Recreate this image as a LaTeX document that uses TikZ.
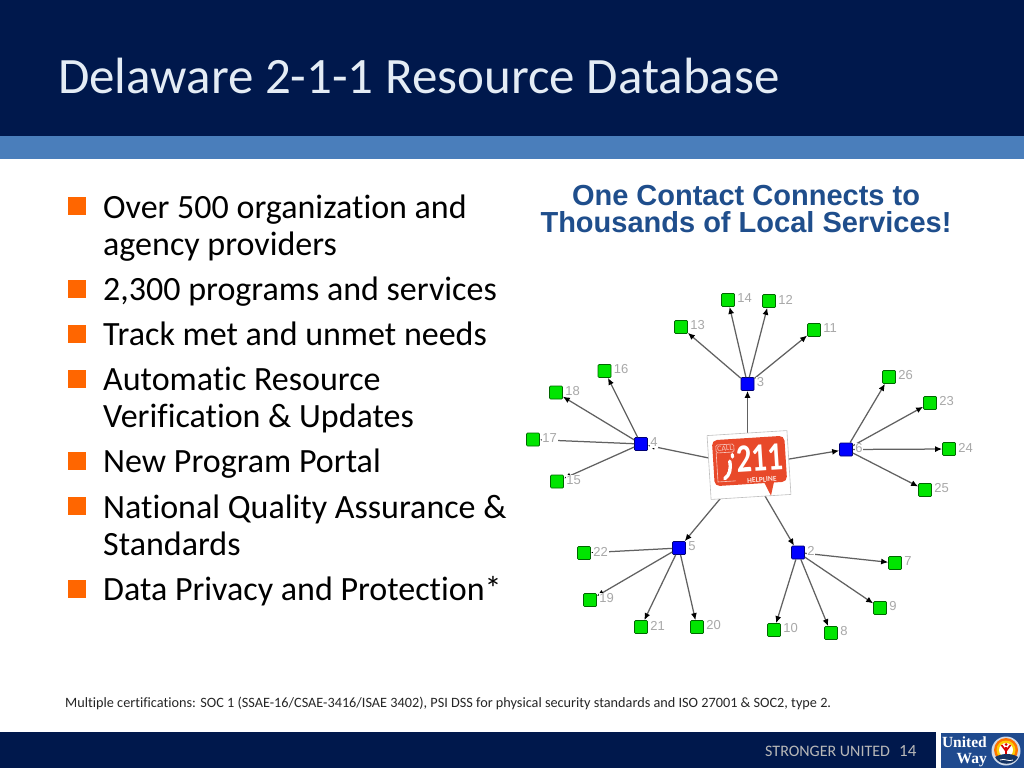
\documentclass[tikz,border=0pt]{standalone}
\usepackage{fontspec}
\setmainfont{Carlito}[Ligatures=CommonOff]
\newfontfamily\boldserif{Liberation Serif}
\newfontfamily\headfont{Liberation Sans}
\newfontfamily\numfont{Liberation Sans}
\usetikzlibrary{arrows.meta,calc}
\definecolor{navy}{HTML}{00184C}
\definecolor{band}{HTML}{4A7EBB}
\definecolor{headblue}{HTML}{1F4E8C}
\definecolor{uwblue}{HTML}{1F4A8E}
\definecolor{bul}{HTML}{FF6600}
\definecolor{logored}{HTML}{E8492A}
\definecolor{lbl}{HTML}{A8A8A8}
\tikzset{
 leaf/.style={draw=black!60!green,fill=green!90!black,line width=.7pt,minimum size=13pt,inner sep=0pt,rounded corners=1pt},
 mid/.style={draw=blue!45!black,fill=blue,line width=.7pt,minimum size=13pt,inner sep=0pt,rounded corners=1pt},
 edge/.style={draw=black!62,line width=1.25pt,-{Latex[length=7pt,width=6pt,black]}},
 num/.style={text=lbl,font=\numfont\fontsize{13}{13}\selectfont,inner sep=.6pt,fill=white,anchor=west,xshift=1.8pt},
 bullet/.style={fill=bul,minimum size=18pt,inner sep=0pt},
 body/.style={anchor=base west,font=\fontsize{34}{37}\selectfont,text=black,inner sep=0pt},
 headtext/.style={anchor=base,inner sep=0pt,text=headblue,font=\headfont\bfseries\fontsize{29}{30}\selectfont},
}
\begin{document}
\begin{tikzpicture}[x=1pt,y=-1pt]
\useasboundingbox (0,0) rectangle (1024,768);
\fill[white] (0,0) rectangle (1024,768);
\fill[navy] (0,0) rectangle (1024,136);
\fill[band] (0,136) rectangle (1024,159);
\fill[navy] (0,732) rectangle (936,768);
\node[anchor=base west,inner sep=0pt,text=white!85!band,font=\fontsize{51}{52}\selectfont] (title) at (58,93) {Delaware 2-1-1 Resource Database};
% bullets
\foreach \n/\y in {a/206,b/288.5,c/333.5,d/378.5,e/460.5,f/505.5,g/588.5}{\node[bullet] (bul\n) at (76.5,\y) {};}
\node[body] (ta) at (103,218) {Over 500 organization and};
\node[body] (ta2) at (103,255) {agency providers};
\node[body] (tb) at (103,300) {2,300 programs and services};
\node[body] (tc) at (103,345) {Track met and unmet needs};
\node[body] (td) at (103,390) {Automatic Resource};
\node[body] (td2) at (103,427) {Verification \& Updates};
\node[body] (te) at (103,472) {New Program Portal};
\node[body] (tf) at (103,518) {National Quality Assurance \&};
\node[body] (tf2) at (103,555) {Standards};
\node[body] (tg) at (103,600) {Data Privacy and Protection*};
% heading
\node[headtext] (h1) at (746,205) {One Contact Connects to};
\node[headtext] (h2) at (746,232) {Thousands of Local Services!};
% footnote
\node[anchor=base west,inner sep=0pt,text=black!85,font=\fontsize{14.25}{15}\selectfont] (foot) at (65,707) {Multiple certifications: SOC 1 (SSAE-16/CSAE-3416/ISAE 3402), PSI DSS for physical security standards and ISO 27001 \& SOC2, type 2.};
\node[anchor=base west,inner sep=0pt,text=black!28,font=\fontsize{16}{16}\selectfont] (su) at (765,756) {STRONGER UNITED};
\node[anchor=base west,inner sep=0pt,text=black!28,font=\fontsize{17}{17}\selectfont] (pg) at (899,756) {14};
% logo UW
\fill[uwblue] (941,733) rectangle (1024,768);
\node[anchor=base east,inner sep=0pt,text=white,font=\boldserif\bfseries\fontsize{15.5}{16}\selectfont] (uw1) at (987,747.5) {United};
\node[anchor=base east,inner sep=0pt,text=white,font=\boldserif\bfseries\fontsize{15.5}{16}\selectfont] (uw2) at (987,763) {Way};
\fill[white!80!uwblue] (1006,751) circle[radius=14.5pt];
\fill[orange!90!red] (1006,750) circle[radius=12pt];
\fill[yellow!65!orange] (1006,750) circle[radius=9.5pt];
\fill[white] (1006,750) circle[radius=7pt];
\draw[red!85!black,line width=1.7pt] (1006,747) -- (1006,756) (1001.5,745) -- (1006,751) -- (1010.5,745);
\fill[red!85!black] (1006,744.5) circle[radius=1.5pt];
\fill[uwblue!70!black] (995,757) .. controls (1002,753) and (1012,753) .. (1018,757) .. controls (1014,766) and (999,766) .. cycle;
\draw[white,line width=.8pt] (1000,760) .. controls (1005,758) and (1008,762) .. (1013,760);
% graph nodes
\node[mid] (n3) at (747.5,384) {};
\node[mid] (n4) at (641,444) {};
\node[mid] (n6) at (846,449.5) {};
\node[mid] (n5) at (679,548) {};
\node[mid] (n2) at (798,552.5) {};
\node[leaf] (n14) at (728,300) {};
\node[leaf] (n12) at (769,301) {};
\node[leaf] (n13) at (681,327) {};
\node[leaf] (n11) at (814,330) {};
\node[leaf] (n16) at (604.5,371) {};
\node[leaf] (n18) at (556,392.5) {};
\node[leaf] (n17) at (533,439.5) {};
\node[leaf] (n15) at (557,481.5) {};
\node[leaf] (n26) at (889,377) {};
\node[leaf] (n23) at (930,403) {};
\node[leaf] (n24) at (949,449) {};
\node[leaf] (n25) at (925,490) {};
\node[leaf] (n22) at (584,553) {};
\node[leaf] (n19) at (590,600) {};
\node[leaf] (n21) at (641,627) {};
\node[leaf] (n20) at (697,627) {};
\node[leaf] (n7) at (895,563) {};
\node[leaf] (n9) at (880,608) {};
\node[leaf] (n10) at (774,630) {};
\node[leaf] (n8) at (831,633) {};
\coordinate (hubc) at (747.5,466);
\foreach \x in {3,4,6,5,2}{\draw[edge] (hubc) -- (n\x);}
\foreach \a/\b in {3/14,3/12,3/13,3/11,4/16,4/18,4/17,4/15,6/26,6/23,6/24,6/25,5/22,5/19,5/21,5/20,2/7,2/9,2/10,2/8}{\draw[edge] (n\a) -- (n\b);}
\foreach \x in {3,4,6,5,2,14,12,13,11,16,18,17,15,26,23,24,25,22,19,21,20,7,9,10,8}{\node[num] (l\x) at ($(n\x.east)+(0,-1.5)$) {\x};}
% hub
\node[draw=black!25,fill=white,line width=.6pt,minimum width=80pt,minimum height=64pt,inner sep=0pt,rotate=3.6] (hub) at (749,465) {};
\begin{scope}[rotate around={3.6:(749,465)},transform shape]
\fill[logored,rounded corners=5pt] (713.5,438) rectangle (786,484);
\fill[logored] (763,483) -- (773,483) -- (769,497) -- cycle;
\node[text=white,font=\fontsize{40}{40}\selectfont\bfseries,inner sep=0pt,xscale=.76] (t211) at (760,459) {211};
\node[text=white!85!logored,font=\fontsize{7.5}{7.5}\selectfont\bfseries,inner sep=0pt] (thelp) at (761,480.5) {HELPLINE};
\node[text=white!70!logored,font=\fontsize{8}{8}\selectfont,inner sep=0pt] (tcall) at (726,447) {CALL};
\draw[white!70!logored,line width=.6pt,rounded corners=1.5pt] (717,443) rectangle (735,451);
\draw[white!70!logored,line width=.6pt] (717,451) -- (717,480) -- (735,480);
\draw[white,line width=3.2pt,line cap=round] (733,453.5) -- (733,456);
\draw[white,line width=3.4pt,line cap=round] (730,460) .. controls (731,468) and (729,474) .. (724,477);
\end{scope}
\end{tikzpicture}
\end{document}
